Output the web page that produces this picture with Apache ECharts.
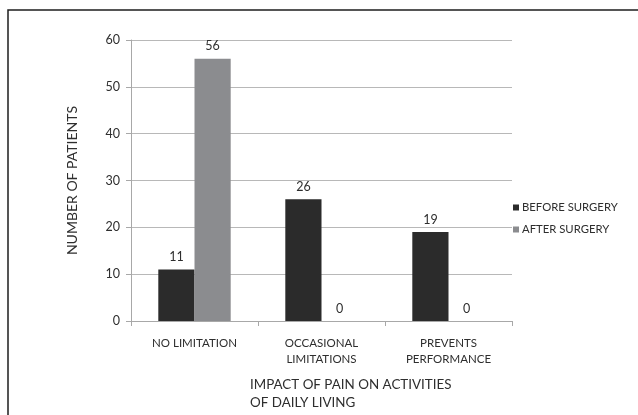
<!DOCTYPE html>
<html>
<head>
<meta charset="utf-8">
<script src="https://cdn.jsdelivr.net/npm/echarts@6/dist/echarts.min.js"></script>
<style>
  html, body { margin: 0; padding: 0; background: #fff; }
  #main { width: 638px; height: 415px; }
</style>
</head>
<body>
<div id="main"></div>
<script>
// chart data
var categories = ['NO LIMITATION', 'OCCASIONAL\nLIMITATIONS', 'PREVENTS\nPERFORMANCE'];
var beforeSurgery = [11, 26, 19];
var afterSurgery = [56, 0, 0];
var yTicks = { min: 0, max: 60, interval: 10 };

var textColor = '#2e2e2e';
var font = 'Lato';

var myChart = echarts.init(document.getElementById('main'));

var option = {
  animation: false,
  backgroundColor: '#fff',
  textStyle: { fontFamily: font },
  title: {
    text: 'IMPACT OF PAIN ON ACTIVITIES\nOF DAILY LIVING',
    left: 250,
    top: 376,
    padding: 0,
    textStyle: {
      fontFamily: font,
      fontSize: 13.4,
      fontWeight: 'normal',
      color: textColor,
      lineHeight: 18
    }
  },
  grid: { left: 131, right: 126, top: 40, bottom: 94 },
  legend: {
    orient: 'vertical',
    left: 508,
    top: 197,
    itemWidth: 6,
    itemHeight: 6,
    itemGap: 11,
    icon: 'rect',
    textStyle: { fontFamily: font, fontSize: 11.3, color: textColor, padding: [0, 0, 0, -2] },
    data: ['BEFORE SURGERY', 'AFTER SURGERY']
  },
  xAxis: {
    type: 'category',
    data: categories,
    axisLine: { lineStyle: { color: '#a8a8a8' } },
    axisTick: { show: true, length: 5, alignWithLabel: false, lineStyle: { color: '#a8a8a8' } },
    axisLabel: { color: textColor, fontSize: 11.5, lineHeight: 16, margin: 14, interval: 0 }
  },
  yAxis: {
    type: 'value',
    min: yTicks.min,
    max: yTicks.max,
    interval: yTicks.interval,
    name: 'NUMBER OF PATIENTS',
    nameLocation: 'middle',
    nameGap: 52,
    nameTextStyle: { color: textColor, fontSize: 14 },
    axisLine: { show: true, lineStyle: { color: '#a8a8a8' } },
    axisTick: { show: true, length: 5, lineStyle: { color: '#a8a8a8' } },
    axisLabel: { color: textColor, fontSize: 12.5, margin: 11 },
    splitLine: { lineStyle: { color: '#b8b8b8' } }
  },
  series: [
    {
      name: 'BEFORE SURGERY',
      type: 'bar',
      data: beforeSurgery,
      barGap: '0%',
      barCategoryGap: '43%',
      itemStyle: { color: '#2b2b2b' },
      label: { show: true, position: 'top', distance: 6, color: textColor, fontSize: 12.5 }
    },
    {
      name: 'AFTER SURGERY',
      type: 'bar',
      data: afterSurgery,
      itemStyle: { color: '#8b8c8f' },
      label: { show: true, position: 'top', distance: 6, color: textColor, fontSize: 12.5 }
    }
  ],
  graphic: [
    {
      type: 'rect',
      silent: true,
      shape: { x: 8, y: 10, width: 700, height: 500 },
      style: { fill: null, stroke: '#1e1e1e', lineWidth: 1.5 }
    }
  ]
};

myChart.setOption(option);
</script>
</body>
</html>
